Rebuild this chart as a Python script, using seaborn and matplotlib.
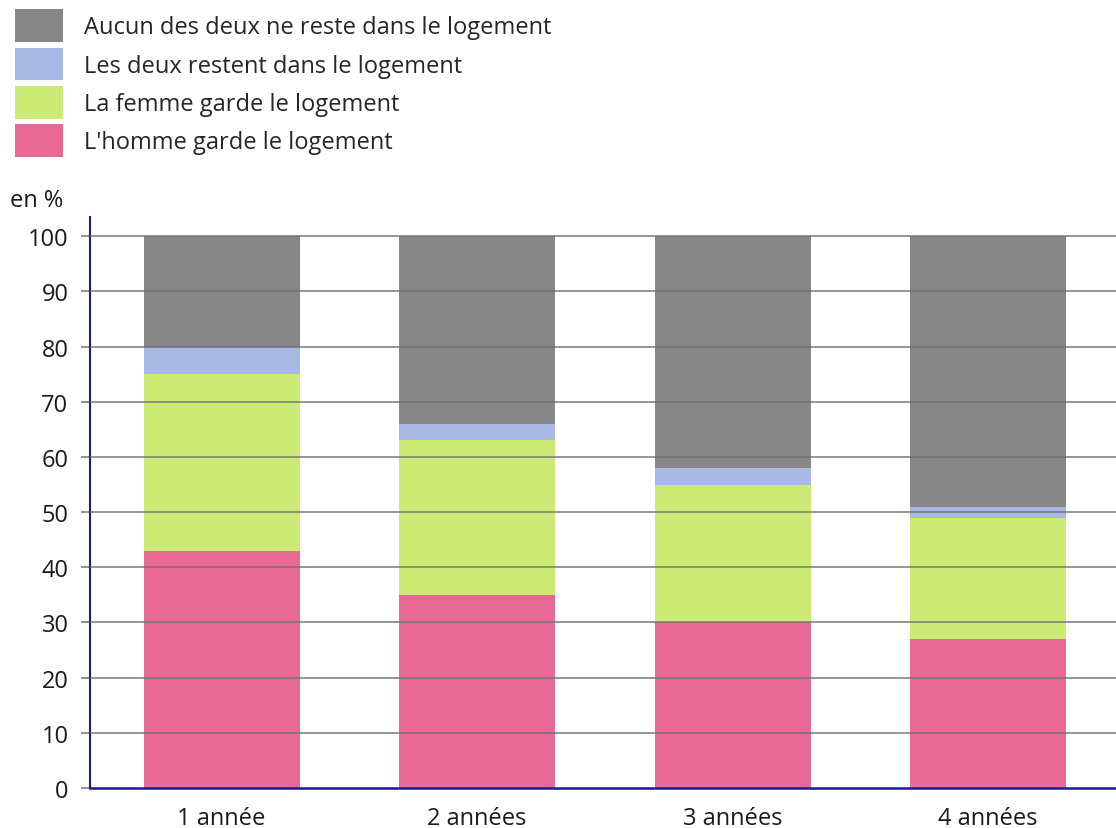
import pandas as pd
import numpy as np
import matplotlib
matplotlib.use("Agg")
import matplotlib.pyplot as plt
import seaborn as sns
from matplotlib.patches import Patch

# data
durees = ["1 année", "2 années", "3 années", "4 années"]
homme = [43, 35, 30, 27]
femme = [32, 28, 25, 22]
les_deux = [5, 3, 3, 2]
aucun = [20, 34, 42, 49]

series = ["L'homme garde le logement", "La femme garde le logement",
          "Les deux restent dans le logement", "Aucun des deux ne reste dans le logement"]
couleurs = ["#e86994", "#cbeb74", "#a6b8e3", "#878787"]

df = pd.DataFrame({"duree": durees, series[0]: homme, series[1]: femme,
                   series[2]: les_deux, series[3]: aucun})

sns.set_theme(style="white")
plt.rcParams['font.family'] = ['Open Sans', 'DejaVu Sans']

fs = 17
fig = plt.figure(figsize=(11.16, 8.29), dpi=100)
ax = fig.add_axes([90/1116, 40/829, 1026/1116, (789-218)/829])

# stacked bars, top layers first so lower ones sit on top
cum = df[series].cumsum(axis=1)
for s, c in zip(reversed(series), reversed(couleurs)):
    sns.barplot(x=df["duree"], y=cum[s], color=c, width=0.61, ax=ax,
                saturation=1, linewidth=0, zorder=2)

ax.set_ylim(0, 103.5)
ax.set_xlim(-0.515, 3.5)
ax.set_yticks(range(0, 101, 10))
ax.set_xlabel("")
ax.set_ylabel("")
for y in range(10, 101, 10):
    ax.axhline(y, color="#6e6e6e", lw=1.2, alpha=0.85, zorder=3)

for side in ["top", "right"]:
    ax.spines[side].set_visible(False)
ax.spines["left"].set_color("#1a1a8c")
ax.spines["bottom"].set_color("#1a1a8c")
ax.spines["left"].set_linewidth(1.5)
ax.spines["bottom"].set_linewidth(1.8)
ax.spines["bottom"].set_zorder(5)
ax.tick_params(axis="y", length=6.5, color="#808080", width=1.2, labelsize=fs, pad=9, left=True)
ax.tick_params(axis="x", length=0, labelsize=fs, pad=13)
for lab in ax.get_xticklabels() + ax.get_yticklabels():
    lab.set_color("#1a1a1a")

fig.text(10/1116, 1 - 201/829, "en %", fontsize=fs, va="center", ha="left", color="#1a1a1a")

handles = [Patch(facecolor=c, edgecolor="none", label=s)
           for s, c in zip(reversed(series), reversed(couleurs))]
fig.legend(handles=handles, loc="upper left", bbox_to_anchor=(13/1116, 1 - 8/829),
           frameon=False, fontsize=fs, handlelength=2.0, handleheight=1.77,
           labelspacing=0.22, handletextpad=0.9, borderpad=0.1, borderaxespad=0)

fig.savefig("out.png", dpi=100)
